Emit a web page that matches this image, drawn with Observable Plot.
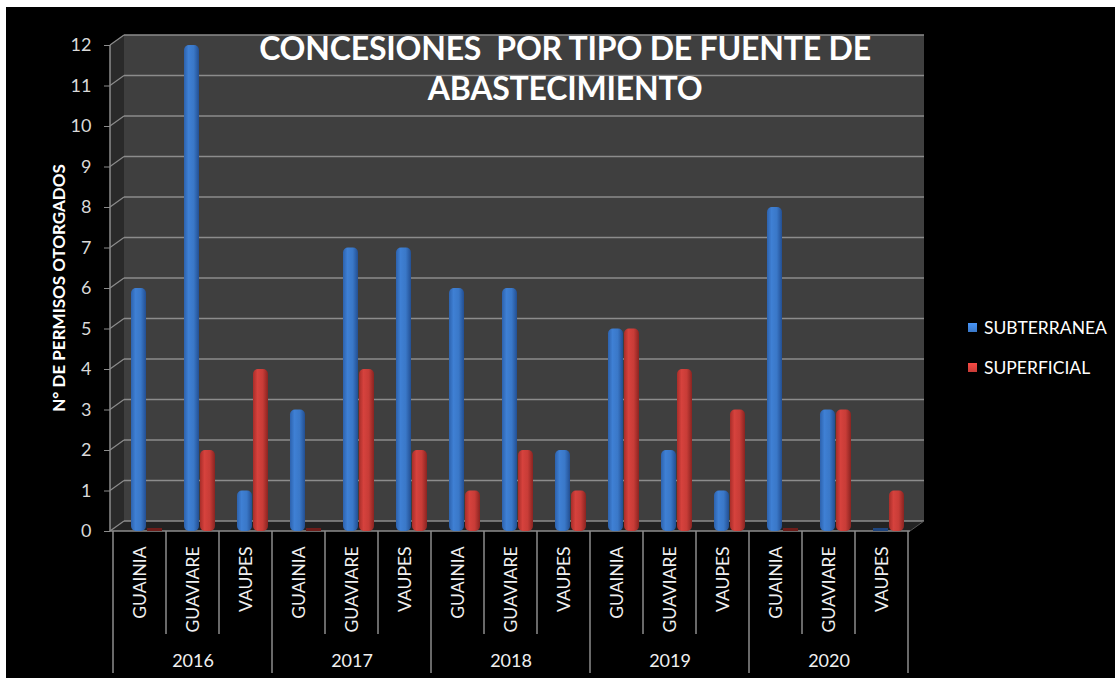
<!DOCTYPE html>
<html><head><meta charset="utf-8">
<script src="https://cdn.jsdelivr.net/npm/d3@7"></script>
<script src="https://cdn.jsdelivr.net/npm/@observablehq/plot@0.6"></script>
<style>
html,body{margin:0;padding:0;background:#fff;}
#frame{position:absolute;left:6px;top:7px;width:1109px;height:671px;background:#000;overflow:hidden;font-family:Lato,"Open Sans",sans-serif;}
#chart{position:absolute;left:0;top:0;}
#title{position:absolute;left:0;width:1118px;top:21px;text-align:center;color:#fff;font-weight:bold;font-size:32px;line-height:40px;letter-spacing:-0.2px;}
#ylabel{position:absolute;left:52px;top:281px;transform:translate(-50%,-50%) rotate(-90deg);white-space:nowrap;color:#fff;font-weight:bold;font-size:17px;}
#legend{position:absolute;left:962px;top:310px;color:#fff;font-size:17.5px;}
.li{display:flex;align-items:center;height:20px;margin-bottom:20px;}
.sw{width:9px;height:9px;margin-right:7px;}
</style></head>
<body>
<div id="frame">
  <div id="chart"></div>
  <div id="title">CONCESIONES&nbsp; POR TIPO DE FUENTE DE<br>ABASTECIMIENTO</div>
  <div id="ylabel">N° DE PERMISOS OTORGADOS</div>
  <div id="legend"></div>
</div>
<script>
// ---- data ----
const years = ["2016", "2017", "2018", "2019", "2020"];
const departments = ["GUAINIA", "GUAVIARE", "VAUPES"];
const seriesNames = ["SUBTERRANEA", "SUPERFICIAL"];
// values listed year by year, department order GUAINIA, GUAVIARE, VAUPES
const subterranea = [6, 12, 1,  3, 7, 7,  6, 6, 2,  5, 2, 1,  8, 3, 0];
const superficial = [0, 2, 4,   0, 4, 2,  1, 2, 1,  5, 4, 3,  0, 3, 1];
const yTicks = [0,1,2,3,4,5,6,7,8,9,10,11,12];

const rows = [];
years.forEach((yr, i) => departments.forEach((dep, j) => {
  const k = i * 3 + j;
  rows.push({key: yr + "|" + dep, year: yr, dept: dep, sub: subterranea[k], sup: superficial[k]});
}));
const keys = rows.map(d => d.key);

const DX = 14, DY = 10;
const gridColor = "#8c8c8c";

function box3d(index, scales, values, dims) {
  const y = scales.y;
  const x0 = dims.marginLeft, x1 = dims.width - dims.marginRight;
  const yb = y(0), yt = y(yTicks[yTicks.length - 1]);
  const g = d3.create("svg:g");
  g.append("path").attr("d", `M${x0},${yb}L${x0},${yt}L${x0+DX},${yt-DY}L${x0+DX},${yb-DY}Z`).attr("fill", "#2a2a2a");
  g.append("rect").attr("x", x0 + DX).attr("y", yt - DY).attr("width", x1 - x0).attr("height", yb - yt).attr("fill", "#3f3f3f");
  g.append("path").attr("d", `M${x0},${yb}L${x1},${yb}L${x1+DX},${yb-DY}L${x0+DX},${yb-DY}Z`).attr("fill", "#232323");
  for (const t of yTicks) {
    const yy = y(t);
    g.append("line").attr("x1", x0 + DX).attr("x2", x1 + DX).attr("y1", yy - DY).attr("y2", yy - DY)
      .attr("stroke", gridColor).attr("stroke-width", 1.6);
    g.append("line").attr("x1", x0).attr("x2", x0 + DX).attr("y1", yy).attr("y2", yy - DY)
      .attr("stroke", gridColor).attr("stroke-width", 1.2);
  }
  g.append("line").attr("x1", x0).attr("x2", x0).attr("y1", yb).attr("y2", yt).attr("stroke", gridColor).attr("stroke-width", 1.5);
  g.append("line").attr("x1", x0).attr("x2", x1).attr("y1", yb).attr("y2", yb).attr("stroke", gridColor).attr("stroke-width", 1.5);
  g.append("line").attr("x1", x1).attr("x2", x1 + DX).attr("y1", yb).attr("y2", yb - DY).attr("stroke", "#555").attr("stroke-width", 1);
  return g.node();
}

function xDividers(index, scales, values, dims) {
  const x = scales.x, bw = x.bandwidth(), yb = scales.y(0);
  const g = d3.create("svg:g").attr("stroke", gridColor).attr("stroke-width", 1.5);
  keys.forEach((k, i) => {
    g.append("line").attr("x1", x(k)).attr("x2", x(k)).attr("y1", yb).attr("y2", yb + (i % 3 === 0 ? 142 : 103));
  });
  const xe = x(keys[keys.length - 1]) + bw;
  g.append("line").attr("x1", xe).attr("x2", xe).attr("y1", yb).attr("y2", yb + 142);
  return g.node();
}

const chart = Plot.plot({
  width: 1109, height: 671,
  marginLeft: 104, marginRight: 205, marginTop: 38, marginBottom: 147,
  style: {background: "black", color: "#d9d9d9", fontFamily: "Lato, 'Open Sans', sans-serif", overflow: "visible"},
  x: {type: "band", domain: keys, padding: 0, axis: null},
  y: {domain: [0, 12], axis: null},
  marks: [
    box3d,
    Plot.barY(rows.filter(d => d.sub > 0), {x: "key", y: "sub", fill: "url(#gBlue)", insetLeft: 18, insetRight: 20, rx: 5}),
    Plot.barY(rows.filter(d => d.sup > 0), {x: "key", y: "sup", fill: "url(#gRed)", insetLeft: 34, insetRight: 4, rx: 5}),
    Plot.barY(rows.filter(d => d.sub === 0), {x: "key", y: "sub", fill: "#1f467f", insetLeft: 18, insetRight: 20, insetTop: -3}),
    Plot.barY(rows.filter(d => d.sup === 0), {x: "key", y: "sup", fill: "#6e1d1a", insetLeft: 34, insetRight: 4, insetTop: -3}),
    Plot.axisY({ticks: yTicks, tickSize: 6, tickPadding: 13, fontSize: 18, stroke: gridColor, fill: "#d9d9d9", label: null}),
    xDividers,
    Plot.text(rows, {x: "key", text: "dept", frameAnchor: "bottom", rotate: -90, textAnchor: "end", lineAnchor: "middle", dy: 15, fontSize: 17.5, fill: "#f0f0f0"}),
    Plot.text(years, {x: d => d + "|GUAVIARE", text: d => d, frameAnchor: "bottom", lineAnchor: "middle", dy: 130, fontSize: 18, fill: "#f0f0f0"})
  ]
});

const defs = d3.select(chart).insert("defs", ":first-child");
function grad(id, stops) {
  const lg = defs.append("linearGradient").attr("id", id).attr("x1", "0").attr("x2", "1").attr("y1", "0").attr("y2", "0");
  stops.forEach(([o, c]) => lg.append("stop").attr("offset", o).attr("stop-color", c));
}
grad("gBlue", [["0", "#2d62ad"], ["0.3", "#3f80d4"], ["0.65", "#3a78c8"], ["1", "#234f92"]]);
grad("gRed", [["0", "#a82d29"], ["0.3", "#d6423d"], ["0.65", "#c83c37"], ["1", "#8a2421"]]);
document.getElementById("chart").appendChild(chart);

const legend = d3.select("#legend");
[["SUBTERRANEA", "#3a78c8"], ["SUPERFICIAL", "#c83c37"]].forEach(([name, c]) => {
  const it = legend.append("div").attr("class", "li");
  it.append("div").attr("class", "sw").style("background", `linear-gradient(180deg, ${d3.color(c).brighter(0.6)}, ${c})`);
  it.append("span").text(name);
});
</script>
</body></html>
